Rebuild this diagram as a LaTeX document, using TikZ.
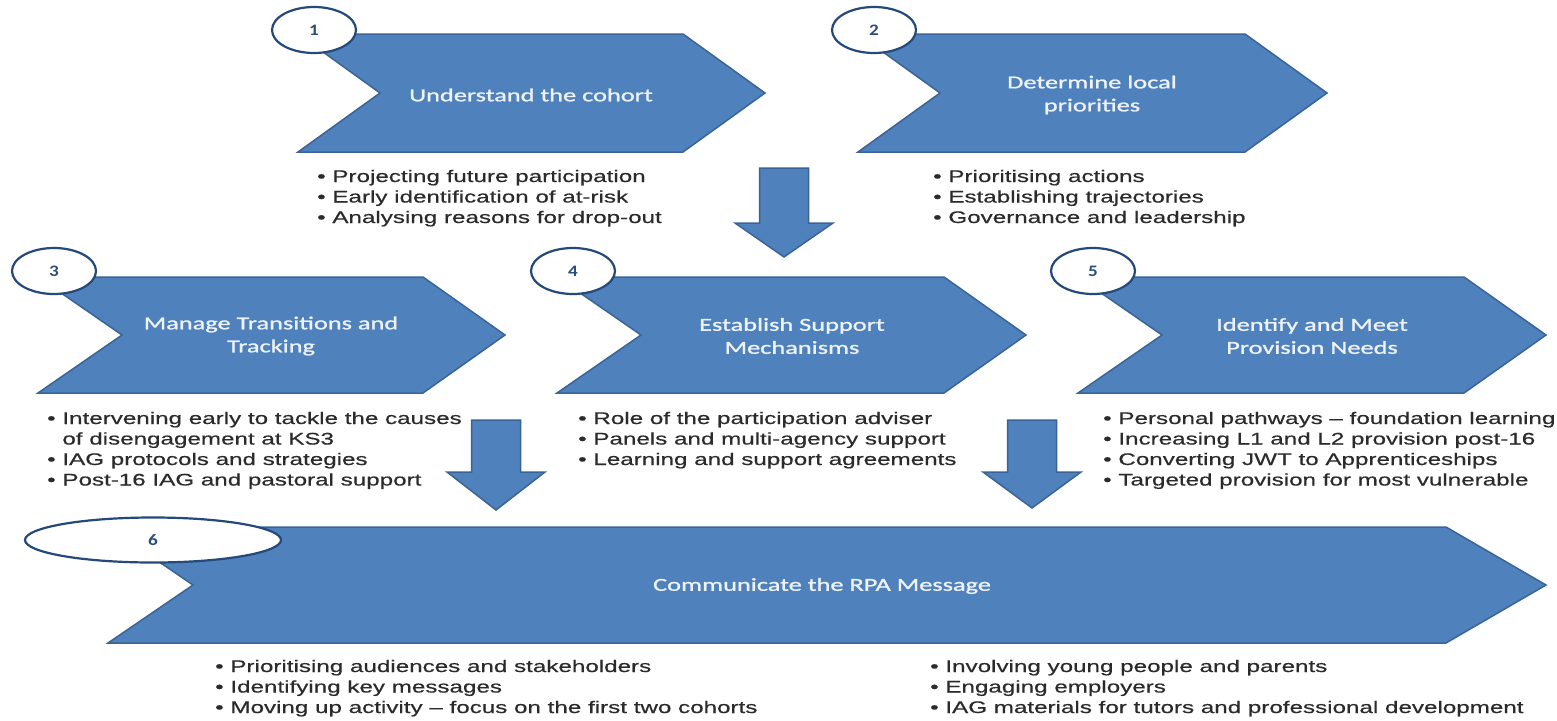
\documentclass[tikz,border=0pt]{standalone}
\usepackage{fontspec}
\usetikzlibrary{shapes.geometric}
\newfontfamily\bfont[FakeStretch=1.44,FakeBold=0.5]{Liberation Sans}
\newfontfamily\lfont[FakeStretch=1.44,FakeBold=1.2]{Carlito}
\newfontfamily\nfont[FakeStretch=1.2]{Carlito}
\definecolor{cfill}{HTML}{4F81BD}
\definecolor{cedge}{HTML}{3A6496}
\definecolor{circedge}{HTML}{24497A}
\definecolor{numcol}{HTML}{2A4D7E}
\definecolor{btext}{HTML}{2B2B2B}
\definecolor{ltext}{HTML}{EEF3FA}
\tikzset{
  chev/.style={fill=cfill, draw=cedge, line width=1.5pt, line join=miter},
  blk/.style={fill=cfill, draw=cedge, line width=1.5pt, line join=miter},
  numcirc/.style={ellipse, draw=circedge, fill=white, line width=2.2pt, inner sep=0pt,
    minimum width=84pt, minimum height=46pt,
    font=\nfont\bfseries\fontsize{16}{16}\selectfont, text=numcol},
  lab/.style={align=center, text=ltext, inner sep=0pt,
    font=\lfont\fontsize{18.3}{23}\selectfont},
  bul/.style={anchor=base west, inner sep=0pt, text=btext,
    font=\bfont\fontsize{16.8}{20.5}\selectfont}
}
% #1 left x, #2 tip x, #3 top y, #4 bottom y, #5 notch depth, #6 tip depth
\newcommand\mychev[6]{%
  \draw[chev] (#1,#3) -- ({#2-#6},#3) -- (#2,{(#3+#4)/2}) -- ({#2-#6},#4) -- (#1,#4)
    -- ({#1+#5},{(#3+#4)/2}) -- cycle;}
% #1 centre x, #2 top y, #3 head top y, #4 tip y
\newcommand\mydown[4]{%
  \draw[blk] ({#1-24.5},#2) -- ({#1+24.5},#2) -- ({#1+24.5},#3) -- ({#1+49},#3)
    -- (#1,#4) -- ({#1-49},#3) -- ({#1-24.5},#3) -- cycle;}
\begin{document}
\begin{tikzpicture}[x=1pt,y=-1pt]
\useasboundingbox[fill=white] (0,0) rectangle (1557,720);

% chevrons
\mychev{298}{765}{34}{152}{82}{82}
\mychev{858}{1327}{34}{152}{82}{82}
\mychev{38}{505}{277}{393}{84}{82}
\mychev{557}{1026}{277}{393}{84}{82}
\mychev{1078}{1546}{277}{393}{84}{82}
\mychev{108}{1546}{527}{643}{85}{100}

% number ellipses
\node[numcirc] (c1) at (314,30) {1};
\node[numcirc] (c2) at (874,30) {2};
\node[numcirc] (c3) at (54,271) {3};
\node[numcirc] (c4) at (573,271) {4};
\node[numcirc] (c5) at (1093,271) {5};
\node[numcirc, minimum width=256pt, minimum height=45pt] (c6) at (153,540) {6};

% chevron labels
\node[lab] (l1) at (531,95) {Understand the cohort};
\node[lab] (l2) at (1092,95) {Determine local\\priorities};
\node[lab] (l3) at (271,336) {Manage Transitions and\\Tracking};
\node[lab] (l4) at (792,336) {Establish Support\\Mechanisms};
\node[lab] (l5) at (1312,336) {Identify and Meet\\Provision Needs};
\node[lab] (l6) at (822,586) {Communicate the RPA Message};

% block arrows
\mydown{784}{168}{223}{257}
\mydown{496}{420}{472}{510}
\mydown{1032}{420}{472}{508}

% bullet lists
\node[bul] (b1) at (317,182) {\begin{tabular}[t]{@{}l@{}}
• Projecting future participation\\
• Early identification of at-risk\\
• Analysing reasons for drop-out\end{tabular}};
\node[bul] (b2) at (933,182) {\begin{tabular}[t]{@{}l@{}}
• Prioritising actions\\
• Establishing trajectories\\
• Governance and leadership\end{tabular}};
\node[bul] (b3) at (47,424) {\begin{tabular}[t]{@{}l@{}}
• Intervening early to tackle the causes\\
\phantom{• }of disengagement at KS3\\
• IAG protocols and strategies\\
• Post-16 IAG and pastoral support\end{tabular}};
\node[bul] (b4) at (578,424) {\begin{tabular}[t]{@{}l@{}}
• Role of the participation adviser\\
• Panels and multi-agency support\\
• Learning and support agreements\end{tabular}};
\node[bul] (b5) at (1103,424) {\begin{tabular}[t]{@{}l@{}}
• Personal pathways – foundation learning\\
• Increasing L1 and L2 provision post-16\\
• Converting JWT to Apprenticeships\\
• Targeted provision for most vulnerable\end{tabular}};
\node[bul] (b6) at (215,672) {\begin{tabular}[t]{@{}l@{}}
• Prioritising audiences and stakeholders\\
• Identifying key messages\\
• Moving up activity – focus on the first two cohorts\end{tabular}};
\node[bul] (b7) at (930,672) {\begin{tabular}[t]{@{}l@{}}
• Involving young people and parents\\
• Engaging employers\\
• IAG materials for tutors and professional development\end{tabular}};
\end{tikzpicture}
\end{document}
